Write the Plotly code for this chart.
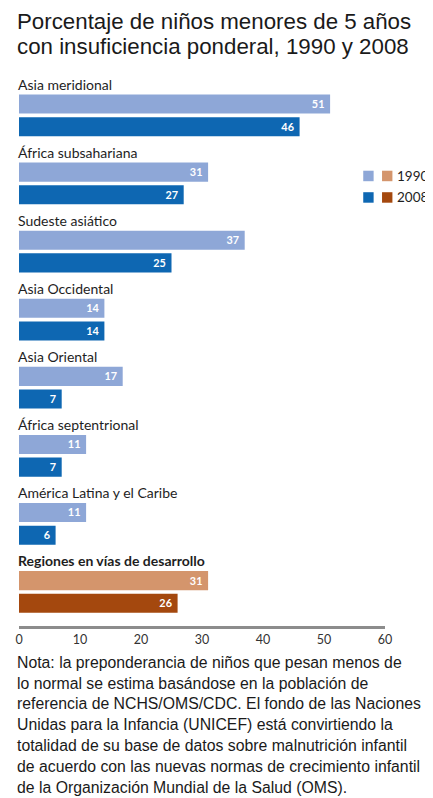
import plotly.graph_objects as go

# ---------------- data ----------------
CATEGORIES = [
    "Asia meridional",
    "África subsahariana",
    "Sudeste asiático",
    "Asia Occidental",
    "Asia Oriental",
    "África septentrional",
    "América Latina y el Caribe",
    "Regiones en vías de desarrollo",
]
V1990 = [51, 31, 37, 14, 17, 11, 11, 31]
V2008 = [46, 27, 25, 14, 7, 7, 6, 26]
X_TICKS = [0, 10, 20, 30, 40, 50, 60]
YEARS = ["1990", "2008"]
TOTAL_CATEGORY = "Regiones en vías de desarrollo"

TITLE_LINES = [
    "Porcentaje de niños menores de 5 años",
    "con insuficiencia ponderal, 1990 y 2008",
]
NOTE_LINES = [
    "Nota: la preponderancia de niños que pesan menos de",
    "lo normal se estima basándose en la población de",
    "referencia de NCHS/OMS/CDC. El fondo de las Naciones",
    "Unidas para la Infancia (UNICEF) está convirtiendo la",
    "totalidad de su base de datos sobre malnutrición infantil",
    "de acuerdo con las nuevas normas de crecimiento infantil",
    "de la Organización Mundial de la Salud (OMS).",
]

# ---------------- style ----------------
BLUE = {"1990": "#8EA7D7", "2008": "#0E67B2"}
ORANGE = {"1990": "#D4956C", "2008": "#A4480E"}
PAGE_OFF = 8            # default body margin of the html page
W, H = 433 - PAGE_OFF, 798 - PAGE_OFF
PLOT_LEFT, PLOT_RIGHT = 15 - PAGE_OFF, 385 - PAGE_OFF
PLOT_TOP, PLOT_BOTTOM = 69.5 - PAGE_OFF, 625.7 - PAGE_OFF
ML, MR, MT, MB = PLOT_LEFT, W - PLOT_RIGHT, PLOT_TOP, H - PLOT_BOTTOM
PLOT_H = PLOT_BOTTOM - PLOT_TOP
PLOT_W = PLOT_RIGHT - PLOT_LEFT
LABEL_FONT = "Lato, 'Open Sans', sans-serif"
TEXT_FONT = "'Liberation Sans', Arial, Helvetica, sans-serif"


def px_to_paper_x(px):
    return (px - PAGE_OFF - PLOT_LEFT) / PLOT_W


def px_to_paper_y(py):
    return (PLOT_BOTTOM - (py - PAGE_OFF)) / PLOT_H


fig = go.Figure()

values = {"1990": V1990, "2008": V2008}
for k, year in enumerate(YEARS):
    ys = [3 * i + 1 + k for i in range(len(CATEGORIES))]
    colors = [ORANGE[year] if c == TOTAL_CATEGORY else BLUE[year] for c in CATEGORIES]
    fig.add_trace(go.Bar(
        y=ys,
        x=values[year],
        orientation="h",
        width=0.84,
        name=year,
        marker=dict(color=colors, line=dict(width=0)),
        texttemplate="%{x}\u00a0",
        textposition="inside",
        insidetextanchor="end",
        textangle=0,
        textfont=dict(color="white", size=12.5, family=LABEL_FONT, weight="bold"),
        showlegend=False,
        hoverinfo="skip",
    ))

annotations = []
# category labels
for i, cat in enumerate(CATEGORIES):
    bold = cat == TOTAL_CATEGORY
    annotations.append(dict(
        x=0, y=3 * i + 0.5, xref="x", yref="y",
        xanchor="left", yanchor="bottom", xshift=-3, yshift=-2,
        text=f"<b>{cat}</b>" if bold else cat,
        showarrow=False,
        font=dict(family=LABEL_FONT, size=14, color="#1e1e1e"),
    ))

# title
for j, line in enumerate(TITLE_LINES):
    annotations.append(dict(
        x=px_to_paper_x(11), y=px_to_paper_y(20.5 + 25 * j),
        xref="paper", yref="paper", xanchor="left", yanchor="middle",
        text=line, showarrow=False,
        font=dict(family=TEXT_FONT, size=22.3, color="#1a1a1a"),
    ))

# note
for j, line in enumerate(NOTE_LINES):
    annotations.append(dict(
        x=px_to_paper_x(11), y=px_to_paper_y(662 + 20.8 * j),
        xref="paper", yref="paper", xanchor="left", yanchor="middle",
        text=line, showarrow=False,
        font=dict(family=TEXT_FONT, size=15.8, color="#1a1a1a"),
    ))

# custom legend (two swatches per year)
shapes = []
legend_rows = [175.5, 197]
for year, row in zip(YEARS, legend_rows):
    for sx, pal in ((363, BLUE), (382, ORANGE)):
        shapes.append(dict(
            type="rect", xref="paper", yref="paper",
            x0=px_to_paper_x(sx), x1=px_to_paper_x(sx + 10.5),
            y0=px_to_paper_y(row + 5.25), y1=px_to_paper_y(row - 5.25),
            fillcolor=pal[year], line=dict(width=0),
        ))
    annotations.append(dict(
        x=px_to_paper_x(395), y=px_to_paper_y(row),
        xref="paper", yref="paper", xanchor="left", yanchor="middle",
        text=year, showarrow=False,
        font=dict(family=LABEL_FONT, size=13.5, color="#1e1e1e"),
    ))

fig.update_layout(
    width=W, height=H,
    margin=dict(l=ML, r=MR, t=MT, b=MB, pad=0),
    paper_bgcolor="white", plot_bgcolor="white",
    barmode="overlay",
    annotations=annotations,
    shapes=shapes,
    showlegend=False,
)
fig.update_xaxes(
    range=[0, 60], tickvals=X_TICKS, ticktext=[str(t) for t in X_TICKS],
    showgrid=False, zeroline=False, showline=True,
    linecolor="#8C8C8C", linewidth=3, ticks="",
    tickfont=dict(family=LABEL_FONT, size=12.5, color="#333333"),
    fixedrange=True,
)
fig.update_yaxes(
    range=[24, -0.5], showticklabels=False, showgrid=False, zeroline=False,
    showline=False, ticks="", fixedrange=True,
)

fig.write_html("out.html")
